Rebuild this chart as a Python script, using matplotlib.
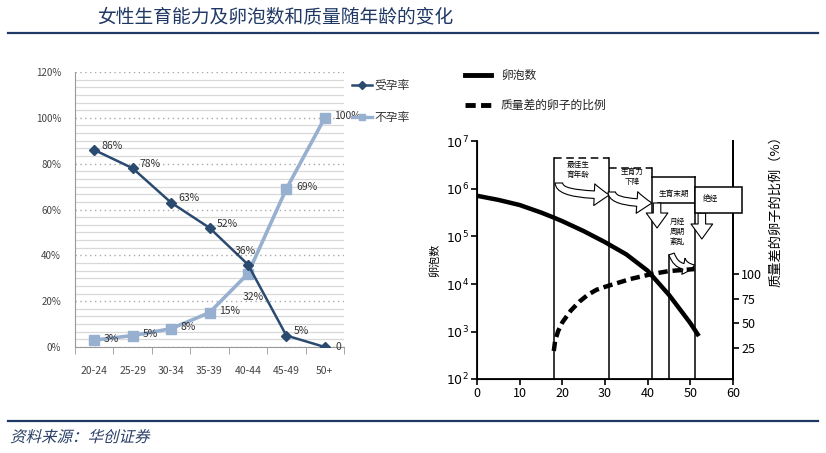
import numpy as np
import matplotlib
matplotlib.use('Agg')
import matplotlib.pyplot as plt
import matplotlib.transforms as mtransforms
from matplotlib.lines import Line2D
from matplotlib.patches import Rectangle, PathPatch
from matplotlib.textpath import TextPath
from matplotlib.font_manager import FontProperties

plt.rcParams['font.family'] = ['Noto Sans CJK SC', 'DejaVu Sans']
plt.rcParams['axes.unicode_minus'] = False

W, H = 826, 453

# left chart: fertility by age group
age_groups = ['20-24', '25-29', '30-34', '35-39', '40-44', '45-49', '50+']
conceive = [86, 78, 63, 52, 36, 5, 0]
conceive_labels = ['86%', '78%', '63%', '52%', '36%', '5%', '0']
infertile = [3, 5, 8, 15, 32, 69, 100]
infertile_labels = ['3%', '5%', '8%', '15%', '32%', '69%', '100%']

# right chart: follicle count and share of poor-quality eggs
follicle_age = [0, 5, 10, 15, 18, 20, 25, 30, 35, 40, 45, 48, 50, 52]
follicle_count = [7.2e5, 5.9e5, 4.6e5, 3.2e5, 2.5e5, 2.1e5, 1.3e5, 7.6e4,
                  4.2e4, 1.9e4, 5.9e3, 2.6e3, 1.5e3, 8.0e2]
poor_age = [18, 18.3, 19, 20, 22, 24, 26, 28, 30, 33, 36, 41, 45, 51]
poor_share = [22, 32, 42, 51, 63, 72, 79, 84, 87, 91, 95, 100, 103, 105]
stage_ages = [18, 31, 41, 45, 51]

navy = '#1F3864'
dark = '#2B4A70'
light = '#98B0D0'

fig = plt.figure(figsize=(W / 100, H / 100), dpi=100)


def fx(px):
    return px / W


def fy(py):
    return 1 - py / H


# header / footer
fig.text(fx(97), fy(18), '女性生育能力及卵泡数和质量随年龄的变化', fontsize=13.5,
         color=navy, va='center', ha='left')
fig.add_artist(Line2D([fx(8), fx(818)], [fy(33), fy(33)], color=navy, lw=1.6))
fig.add_artist(Line2D([fx(8), fx(818)], [fy(421), fy(421)], color=navy, lw=1.6))

# italic source line (CJK font has no italic, so skew the glyph path)
tp = TextPath((0, 0), '资料来源：华创证券', size=15.5,
              prop=FontProperties(family='Noto Sans CJK SC'))
skew = mtransforms.Affine2D().skew_deg(14, 0).translate(10, H - 442)
fig.add_artist(PathPatch(tp, transform=skew, color='#2B3F66', lw=0))

# ---------------- left chart ----------------
ax1 = fig.add_axes([fx(75), fy(347), fx(344) - fx(75), fy(72) - fy(347)])
x = np.arange(len(age_groups))
ax1.set_xlim(-0.5, len(age_groups) - 0.5)
ax1.set_ylim(0, 120)
ax1.set_yticks(np.arange(0, 121, 20))
ax1.set_yticklabels([f'{v}%' for v in range(0, 121, 20)])
ax1.set_yticks(np.arange(0, 120.1, 20 / 6), minor=True)
ax1.grid(which='minor', axis='y', color='#d8d8d8', lw=0.9, ls='-')
ax1.grid(which='major', axis='y', color='#a8a8a8', lw=1.0, ls=(0, (1, 2.5)))
ax1.set_axisbelow(True)
ax1.set_xticks(x)
ax1.set_xticklabels(age_groups)
ax1.set_xticks(np.arange(-0.5, len(age_groups)), minor=True)
ax1.tick_params(axis='x', which='major', length=0, pad=14, labelsize=7.5, labelcolor='#444')
ax1.tick_params(axis='x', which='minor', length=5, color='#999')
ax1.tick_params(axis='y', which='both', length=0, pad=10, labelsize=7, labelcolor='#444')
for s in ['top', 'right']:
    ax1.spines[s].set_visible(False)
for s in ['left', 'bottom']:
    ax1.spines[s].set_color('#999')

ax1.plot(x, infertile, color=light, lw=2.6, marker='s', ms=7, mec=light, zorder=3)
ax1.plot(x, conceive, color=dark, lw=1.8, marker='D', ms=5, zorder=4)

for i, (v, lab) in enumerate(zip(conceive, conceive_labels)):
    off, ha = (5, 3), 'left'
    if i == 4:
        off, ha = (-2, 10), 'center'
    if i == 6:
        off = (8, 0)
    ax1.annotate(lab, (i, v), xytext=off, textcoords='offset points', ha=ha,
                 va='center', fontsize=7.5, color='#333', zorder=5)
for i, (v, lab) in enumerate(zip(infertile, infertile_labels)):
    off, ha = (7, 1), 'left'
    if i == 4:
        off, ha = (4, -17), 'center'
    ax1.annotate(lab, (i, v), xytext=off, textcoords='offset points', ha=ha,
                 va='center', fontsize=7.5, color='#333', zorder=5)

# manual legend
fig.add_artist(Line2D([fx(352), fx(372)], [fy(85)] * 2, color=dark, lw=1.8))
fig.add_artist(Line2D([fx(362)], [fy(85)], color=dark, marker='D', ms=4))
fig.text(fx(374), fy(85), '受孕率', fontsize=8.5, color='#333', va='center')
fig.add_artist(Line2D([fx(352), fx(372)], [fy(117)] * 2, color=light, lw=2.4))
fig.add_artist(Line2D([fx(362)], [fy(117)], color=light, marker='s', ms=5))
fig.text(fx(374), fy(117), '不孕率', fontsize=8.5, color='#333', va='center')

# ---------------- right chart ----------------
ax2 = fig.add_axes([fx(477), fy(379), fx(733) - fx(477), fy(141.5) - fy(379)])
ax2.set_yscale('log')
ax2.set_xlim(0, 60)
ax2.set_ylim(1e2, 1e7)
ax2.set_xticks(range(0, 61, 10))
ax2.set_yticks([10 ** k for k in range(2, 8)])
ax2.set_yticklabels([rf'$10^{{{k}}}$' for k in range(2, 8)])
ax2.yaxis.set_minor_locator(matplotlib.ticker.NullLocator())
ax2.tick_params(axis='both', length=4, width=1.2, labelsize=9, pad=2)
ax2.spines['top'].set_visible(False)
for s in ['left', 'bottom', 'right']:
    ax2.spines[s].set_linewidth(1.3)
ax2.set_ylabel('卵泡数', fontsize=8, labelpad=4)

ax3 = ax2.twinx()
ax3.set_ylim(-6.4, 234.3)
ax3.set_yticks([25, 50, 75, 100])
ax3.tick_params(axis='y', length=4, width=1.2, labelsize=9, pad=2)
ax3.spines['top'].set_visible(False)
ax3.spines['right'].set_linewidth(1.3)
ax3.set_ylabel('质量差的卵子的比例（%）', fontsize=9.5, labelpad=12)
ax3.yaxis.set_label_coords(1.14, 0.72)


def ypx(py):
    return 10 ** (2 + (379 - py) / 47.5)


# stage frames
tops = [158, 158, 168, 255, 177]
for a, t in zip(stage_ages, tops):
    ax2.plot([a, a], [1e2, ypx(t)], color='k', lw=1.1, zorder=2)
ax2.plot([18, 31], [ypx(158)] * 2, color='k', lw=1.1, ls=(0, (5, 3)))
ax2.plot([31, 41], [ypx(168)] * 2, color='k', lw=1.1, ls=(0, (5, 3)))
ax2.plot([41, 51], [ypx(177)] * 2, color='k', lw=1.1)
ax2.plot([42.5, 51], [ypx(203)] * 2, color='k', lw=1.1)
ax3.add_patch(Rectangle((51, -6.4 + (379 - 213) / 0.987), 11, 26 / 0.987,
                        fc='white', ec='k', lw=1.1, clip_on=False, zorder=3))

tkw = dict(fontsize=5.5, ha='center', va='center', linespacing=1.3, zorder=6)
ax2.text(23.6, ypx(170), '最佳生\n育年龄', **tkw)
ax2.text(36.3, ypx(177), '生育力\n下降', **tkw)
ax2.text(46.2, ypx(194), '生育末期', **tkw)
ax3.text(54.6, -6.4 + (379 - 199) / 0.987, '绝经', **tkw)
ax2.text(47.0, ypx(232), '月经\n周期\n紊乱', **tkw)

akw = dict(arrowstyle='simple,head_length=0.9,head_width=1.3,tail_width=0.45',
           fc='white', ec='k', lw=0.8, shrinkA=0, shrinkB=0)
ax2.annotate('', xy=(31, ypx(195)), xytext=(19.2, ypx(183)),
             arrowprops=dict(connectionstyle='angle3,angleA=-90,angleB=0',
                             mutation_scale=12, **akw), zorder=5)
ax2.annotate('', xy=(41, ypx(203)), xytext=(31.6, ypx(192)),
             arrowprops=dict(connectionstyle='angle3,angleA=-90,angleB=0',
                             mutation_scale=12, **akw), zorder=5)
ax2.annotate('', xy=(42.2, ypx(228)), xytext=(42.2, ypx(203)),
             arrowprops=dict(mutation_scale=12, **akw), zorder=5)
ax2.annotate('', xy=(52.7, ypx(239)), xytext=(52.7, ypx(213)),
             arrowprops=dict(mutation_scale=12, **akw), zorder=5)
ax2.annotate('', xy=(51, ypx(265)), xytext=(45.6, ypx(254)),
             arrowprops=dict(connectionstyle='arc3,rad=0.5',
                             mutation_scale=9, **akw), zorder=5)

ax2.plot(follicle_age, follicle_count, color='k', lw=3.2, zorder=4,
         solid_capstyle='butt')
ax3.plot(poor_age, poor_share, color='k', lw=3.2, ls=(0, (2.1, 1.1)), zorder=4)

# right legend
fig.add_artist(Line2D([fx(465), fx(491)], [fy(75)] * 2, color='k', lw=3.5))
fig.add_artist(Line2D([fx(465), fx(491)], [fy(105)] * 2, color='k', lw=3.5,
                      ls=(0, (2.1, 1.1))))
fig.text(fx(501), fy(75), '卵泡数', fontsize=8.5, va='center', color='#222')
fig.text(fx(501), fy(105), '质量差的卵子的比例', fontsize=8.5, va='center', color='#222')

fig.savefig('out.png', dpi=100)
